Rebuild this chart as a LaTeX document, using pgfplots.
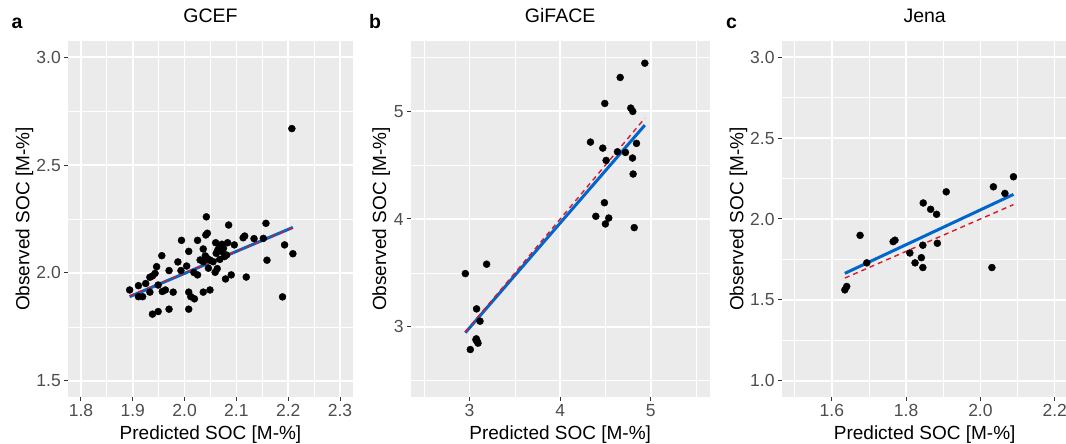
\documentclass[border=0pt]{standalone}
\usepackage{pgfplots}
\pgfplotsset{compat=1.18}
\usepackage{fontspec}
\setmainfont{Liberation Sans}
\definecolor{ggbg}{HTML}{EBEBEB}
\definecolor{ggtick}{HTML}{333333}
\definecolor{ticktxt}{HTML}{4D4D4D}
\definecolor{fitblue}{RGB}{0,102,204}
\definecolor{onered}{RGB}{215,25,40}
\pgfplotsset{
  ggstyle/.style={
    scale only axis, anchor=south west, height=356pt,
    axis background/.style={fill=ggbg},
    axis line style={draw=none},
    grid=both,
    major grid style={white, line width=1.5pt},
    minor grid style={white, line width=0.75pt},
    tick align=outside, tick pos=left,
    major tick length=4pt, minor tick length=0pt,
    every tick/.style={ggtick, line width=1pt},
    tick label style={font=\fontsize{17.5}{19}\selectfont, text=ticktxt},
    xticklabel style={inner sep=3pt},
    yticklabel style={inner sep=3pt},
    label style={font=\fontsize{19}{21}\selectfont},
    title style={font=\fontsize{19.5}{21}\selectfont, at={(0.5,1)}, anchor=base, yshift=12.5pt},
    xlabel style={at={(axis description cs:0.5,0)}, anchor=base, yshift=-43pt},
    xlabel={Predicted SOC [M-\%]},
    ylabel={Observed SOC [M-\%]},
  },
  pts/.style={only marks, mark=*, mark size=3.5pt, black},
  fit/.style={no marks, fitblue, line width=3pt},
  one/.style={no marks, onered, line width=1.4pt, dash pattern=on 5pt off 4pt},
}
\begin{document}
\begin{tikzpicture}[x=1pt,y=1pt]
\useasboundingbox (0,0) rectangle (1066,444);
% ---------------- a: GCEF
\begin{axis}[ggstyle, at={(68pt,47pt)}, width=285pt,
  title={GCEF},
  xmin=1.775, xmax=2.325, ymin=1.425, ymax=3.075,
  xtick={1.8,1.9,2.0,2.1,2.2,2.3}, xticklabels={1.8,1.9,2.0,2.1,2.2,2.3},
  ytick={1.5,2.0,2.5,3.0}, yticklabels={1.5,2.0,2.5,3.0},
  minor xtick={1.85,1.95,2.05,2.15,2.25},
  minor ytick={1.75,2.25,2.75},
  ylabel style={at={(axis description cs:-0.1358,0.5)}, anchor=base},
]
\addplot[pts] coordinates {
(1.894,1.921)(1.911,1.941)(1.911,1.890)(1.919,1.890)(1.925,1.951)
(1.933,1.911)(1.933,1.980)(1.938,1.986)(1.943,1.998)(1.946,2.029)
(1.949,1.944)(1.938,1.809)(1.949,1.821)(1.956,2.080)(1.957,1.914)
(1.963,1.921)(1.970,1.832)(1.970,2.011)(1.978,1.911)(1.987,2.051)
(1.993,2.011)(1.994,2.151)(2.004,2.032)(2.008,2.100)(2.008,1.911)
(2.012,1.890)(2.019,1.880)(2.008,1.832)(2.018,2.002)(2.025,1.991)
(2.025,2.151)(2.030,2.060)(2.036,2.111)(2.036,1.911)(2.040,2.079)
(2.041,2.176)(2.044,2.184)(2.042,2.260)(2.046,2.022)(2.049,1.921)
(2.059,2.003)(2.060,2.140)(2.061,2.091)(2.063,2.020)(2.064,2.106)
(2.068,2.122)(2.072,2.133)(2.072,2.099)(2.075,2.114)(2.079,1.972)
(2.083,2.140)(2.085,2.222)(2.090,1.991)(2.096,2.130)(2.113,2.163)
(2.116,2.171)(2.119,1.981)(2.134,2.159)(2.152,2.160)(2.157,2.230)
(2.159,2.059)(2.189,1.889)(2.193,2.130)(2.209,2.089)(2.207,2.669)
(2.043,2.068)(2.049,2.060)(2.055,2.052)(2.036,2.052)(2.068,2.063)
(2.077,2.076)(2.081,2.083)
};
\addplot[fit] coordinates {(1.894,1.890)(2.209,2.211)};
\addplot[one] coordinates {(1.894,1.894)(2.209,2.209)};
\end{axis}
% ---------------- b: GiFACE
\begin{axis}[ggstyle, at={(410.7pt,47pt)}, width=299pt,
  title={GiFACE},
  xmin=2.35, xmax=5.65, ymin=2.35, ymax=5.65,
  xtick={3,4,5}, xticklabels={3,4,5},
  ytick={3,4,5}, yticklabels={3,4,5},
  minor xtick={2.5,3.5,4.5,5.5},
  minor ytick={2.5,3.5,4.5,5.5},
  ylabel style={at={(axis description cs:-0.0825,0.5)}, anchor=base},
]
\addplot[pts] coordinates {
(2.953,3.494)(3.188,3.581)(3.077,3.167)(3.115,3.053)(3.074,2.889)
(3.085,2.864)(3.093,2.849)(3.070,2.880)(3.008,2.790)
(4.334,4.713)(4.470,4.657)(4.632,4.623)(4.720,4.617)(4.842,4.701)
(4.507,4.543)(4.798,4.565)(4.805,4.417)(4.492,5.071)(4.779,5.028)
(4.801,4.997)(4.662,5.312)(4.934,5.444)(4.488,4.151)(4.393,4.025)
(4.536,4.009)(4.499,3.954)(4.817,3.920)
};
\addplot[fit] coordinates {(2.953,2.946)(4.934,4.870)};
\addplot[one] coordinates {(2.953,2.953)(4.934,4.934)};
\end{axis}
% ---------------- c: Jena
\begin{axis}[ggstyle, at={(781.7pt,47pt)}, width=286pt,
  title={Jena},
  xmin=1.465, xmax=2.235, ymin=0.9, ymax=3.1,
  xtick={1.6,1.8,2.0,2.2}, xticklabels={1.6,1.8,2.0,2.2},
  ytick={1.0,1.5,2.0,2.5,3.0}, yticklabels={1.0,1.5,2.0,2.5,3.0},
  minor xtick={1.5,1.7,1.9,2.1},
  minor ytick={1.25,1.75,2.25,2.75},
  ylabel style={at={(axis description cs:-0.1343,0.5)}, anchor=base},
]
\addplot[pts] coordinates {
(2.089,2.261)(2.035,2.199)(2.066,2.158)(1.908,2.168)(1.846,2.099)
(1.866,2.060)(1.882,2.029)(1.676,1.899)(1.765,1.860)(1.770,1.869)
(1.694,1.729)(1.845,1.838)(1.884,1.850)(1.810,1.790)(1.841,1.761)
(1.824,1.729)(1.845,1.700)(2.031,1.700)(1.640,1.583)(1.635,1.562)
};
\addplot[fit] coordinates {(1.635,1.664)(2.089,2.152)};
\addplot[one] coordinates {(1.635,1.635)(2.089,2.089)};
\end{axis}
% panel tags
\node[anchor=base, font=\fontsize{19.5}{21}\selectfont\bfseries] at (17,415.5) {a};
\node[anchor=base, font=\fontsize{19.5}{21}\selectfont\bfseries] at (375,415.5) {b};
\node[anchor=base, font=\fontsize{19.5}{21}\selectfont\bfseries] at (731.5,415.5) {c};
\end{tikzpicture}
\end{document}
